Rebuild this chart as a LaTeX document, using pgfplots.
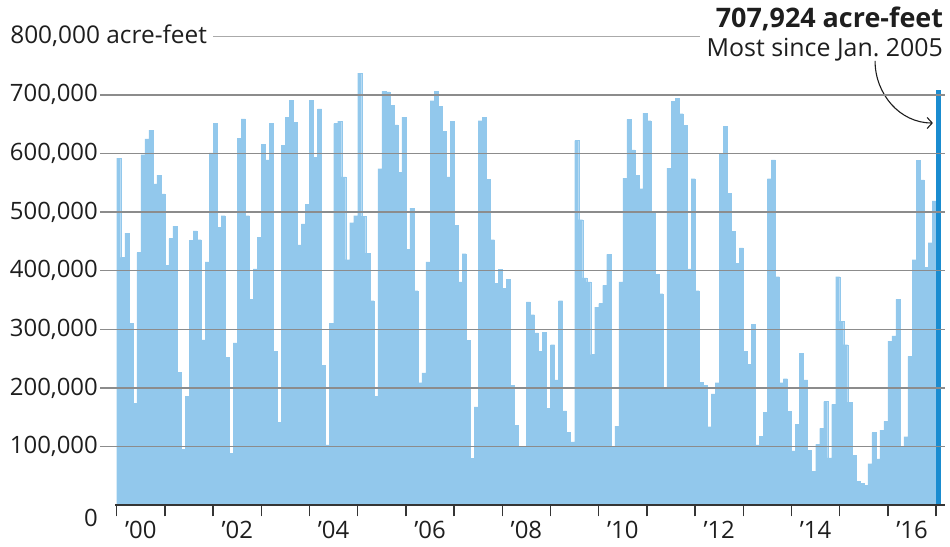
\documentclass[border=0pt]{standalone}
\usepackage{fontspec}
\setmainfont{Open Sans}
\usepackage{pgfplots}
\pgfplotsset{compat=1.18}
\usepackage{pgfplotstable}
\usetikzlibrary{arrows.meta}

\definecolor{barlight}{HTML}{92C8EC}
\definecolor{bardark}{HTML}{1A8CD0}
\definecolor{gridgray}{HTML}{8C8C8C}
\definecolor{toplinegray}{HTML}{AAAAAA}
\definecolor{inkdark}{HTML}{1E1E1E}

% monthly values, thousand acre-feet; m = months since Jan 2000
\pgfplotstableread[row sep=\\]{
m v \\
0 592 \\ 1 423 \\ 2 464 \\ 3 310 \\ 4 174 \\ 5 431 \\ 6 598 \\ 7 625 \\ 8 640 \\ 9 548 \\ 10 563 \\ 11 531 \\
12 409 \\ 13 455 \\ 14 476 \\ 15 227 \\ 16 95 \\ 17 186 \\ 18 452 \\ 19 468 \\ 20 453 \\ 21 282 \\ 22 415 \\ 23 601 \\
24 651 \\ 25 474 \\ 26 494 \\ 27 252 \\ 28 89 \\ 29 277 \\ 30 626 \\ 31 659 \\ 32 494 \\ 33 351 \\ 34 403 \\ 35 457 \\
36 616 \\ 37 589 \\ 38 651 \\ 39 263 \\ 40 142 \\ 41 614 \\ 42 662 \\ 43 691 \\ 44 653 \\ 45 444 \\ 46 480 \\ 47 513 \\
48 691 \\ 49 594 \\ 50 676 \\ 51 239 \\ 52 103 \\ 53 310 \\ 54 651 \\ 55 655 \\ 56 560 \\ 57 419 \\ 58 482 \\ 59 494 \\
60 737 \\ 61 493 \\ 62 430 \\ 63 349 \\ 64 186 \\ 65 574 \\ 66 706 \\ 67 705 \\ 68 682 \\ 69 649 \\ 70 568 \\ 71 662 \\
72 437 \\ 73 507 \\ 74 366 \\ 75 209 \\ 76 226 \\ 77 415 \\ 78 690 \\ 79 706 \\ 80 680 \\ 81 638 \\ 82 560 \\ 83 655 \\
84 478 \\ 85 381 \\ 86 429 \\ 87 281 \\ 88 80 \\ 89 168 \\ 90 656 \\ 91 662 \\ 92 556 \\ 93 453 \\ 94 379 \\ 95 402 \\
96 370 \\ 97 385 \\ 98 205 \\ 99 136 \\ 100 101 \\ 101 101 \\ 102 347 \\ 103 325 \\ 104 294 \\ 105 263 \\ 106 295 \\ 107 165 \\
108 274 \\ 109 214 \\ 110 349 \\ 111 161 \\ 112 124 \\ 113 108 \\ 114 622 \\ 115 487 \\ 116 388 \\ 117 381 \\ 118 257 \\ 119 338 \\
120 344 \\ 121 375 \\ 122 428 \\ 123 100 \\ 124 135 \\ 125 381 \\ 126 558 \\ 127 658 \\ 128 606 \\ 129 563 \\ 130 540 \\ 131 669 \\
132 656 \\ 133 498 \\ 134 394 \\ 135 361 \\ 136 200 \\ 137 575 \\ 138 689 \\ 139 694 \\ 140 668 \\ 141 648 \\ 142 403 \\ 143 557 \\
144 366 \\ 145 210 \\ 146 205 \\ 147 134 \\ 148 190 \\ 149 209 \\ 150 599 \\ 151 646 \\ 152 532 \\ 153 467 \\ 154 413 \\ 155 439 \\
156 263 \\ 157 240 \\ 158 309 \\ 159 103 \\ 160 118 \\ 161 159 \\ 162 557 \\ 163 589 \\ 164 390 \\ 165 209 \\ 166 216 \\ 167 160 \\
168 93 \\ 169 138 \\ 170 259 \\ 171 214 \\ 172 94 \\ 173 58 \\ 174 104 \\ 175 131 \\ 176 177 \\ 177 81 \\ 178 172 \\ 179 390 \\
180 314 \\ 181 274 \\ 182 176 \\ 183 85 \\ 184 41 \\ 185 37 \\ 186 34 \\ 187 71 \\ 188 124 \\ 189 79 \\ 190 128 \\ 191 143 \\
192 280 \\ 193 289 \\ 194 351 \\ 195 101 \\ 196 117 \\ 197 254 \\ 198 419 \\ 199 588 \\ 200 555 \\ 201 406 \\ 202 448 \\ 203 519 \\
}\storage

\pgfplotstableread[row sep=\\]{
m v \\
204 707.924 \\
}\latest

\begin{document}
\begin{tikzpicture}
\begin{axis}[
    scale only axis,
    width=845bp, height=469bp,
    xmin=-4.16, xmax=206.25,
    ymin=0, ymax=800000,
    clip=false,
    axis on top,
    axis line style={draw=none},
    xtick pos=bottom, ytick pos=left,
    ytick={100000,200000,...,700000},
    scaled y ticks=false,
    ymajorgrids=true,
    grid style={gridgray, line width=1.4bp},
    yticklabel style={anchor=east, inner sep=0pt, xshift=-2bp,
        /pgf/number format/.cd, fixed, 1000 sep={,}, assume math mode=true},
    xtick={6,30,...,198},
    xticklabels={’00,’02,’04,’06,’08,’10,’12,’14,’16},
    xticklabel style={anchor=north, inner sep=0pt, yshift=-16bp},
    major tick length=0pt,
    tick align=outside,
    extra x ticks={0,12,...,204},
    extra x tick labels={},
    extra x tick style={major tick length=11bp,
        tick style={draw=inkdark!90, line width=1.5bp}},
    tick label style={font=\fontsize{24}{28}\selectfont, text=inkdark},
]
\addplot[ybar, bar width=1, bar shift=0pt, fill=barlight, draw=barlight, line width=0.2bp]
    table[x expr=\thisrow{m}+0.5, y expr=\thisrow{v}*1000] {\storage};
\addplot[ybar, bar width=1, bar shift=0pt, fill=bardark, draw=bardark, line width=0.2bp]
    table[x expr=\thisrow{m}+0.5, y expr=\thisrow{v}*1000] {\latest};

% baseline
\draw[inkdark!90, line width=2bp] (axis cs:-0.4,0) -- (axis cs:206.25,0);

% zero label
\node[anchor=east, inner sep=0pt, font=\fontsize{24}{28}\selectfont, text=inkdark]
    at (axis cs:-4.16,0) [xshift=-2bp, yshift=-13bp] {0};

% top line with unit label
\draw[toplinegray, line width=1.4bp] (axis cs:24.0,800000) -- (axis cs:145.2,800000);
\node[anchor=east, inner sep=0pt, font=\fontsize{24.5}{28}\selectfont, text=inkdark]
    at (axis cs:22.5,800000) {800,000 acre-feet};

% annotation
\node[anchor=east, inner sep=0pt, font=\fontsize{27}{31}\selectfont\bfseries, text=inkdark]
    at (axis cs:205.75,829000) {707,924 acre-feet};
\node[anchor=east, inner sep=0pt, font=\fontsize{25}{29}\selectfont, text=inkdark]
    at (axis cs:205.75,777000) {Most since Jan.\ 2005};
\draw[inkdark, line width=1.1bp, -{Straight Barb[length=5bp,width=11bp]}]
    (axis cs:188.8,758000) to[out=-90, in=180] (axis cs:203.2,652000);

\coordinate (BL) at (axis cs:-29.06,-69966);
\coordinate (TR) at (axis cs:207.46,861775);
\end{axis}
\pgfresetboundingbox
\useasboundingbox (BL) rectangle (TR);
\end{tikzpicture}
\end{document}
